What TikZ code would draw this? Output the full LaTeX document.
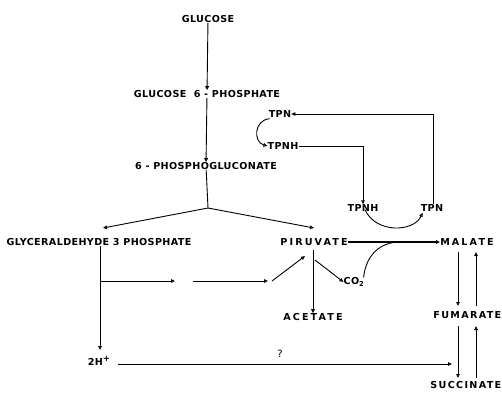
\documentclass[tikz,border=0pt]{standalone}
\usepackage{fontspec}
\usetikzlibrary{arrows.meta}
\newfontfamily\lab[LetterSpace=4]{DejaVu Sans}
\newfontfamily\labw[LetterSpace=22]{DejaVu Sans}
\newfontfamily\labm[LetterSpace=14]{DejaVu Sans}
\begin{document}
\begin{tikzpicture}[x=1pt,y=-1pt,
  lbl/.style={inner sep=0pt,font=\lab\bfseries\fontsize{9.6}{10}\selectfont},
  lblw/.style={inner sep=0pt,font=\labw\bfseries\fontsize{9.6}{10}\selectfont},
  lblm/.style={inner sep=0pt,font=\labm\bfseries\fontsize{9.6}{10}\selectfont},
  arr/.style={-{Triangle[open,length=4pt,width=3.6pt]},line width=0.9pt},
  ln/.style={line width=0.9pt}]
\useasboundingbox (0,0) rectangle (502,395);
\node[lbl] (glc) at (208,19) {GLUCOSE};
\node[lbl] (g6p) at (207,94) {GLUCOSE\ \ 6 - PHOSPHATE};
\node[lbl] (pg) at (206,166) {6 - PHOSPHOGLUCONATE};
\node[lbl] (tpn1) at (280,114) {TPN};
\node[lbl] (tpnh1) at (283,146) {TPNH};
\node[lbl] (tpnh2) at (363,208) {TPNH};
\node[lbl] (tpn2) at (432,208) {TPN};
\node[lbl] (gap) at (99,242) {GLYCERALDEHYDE 3 PHOSPHATE};
\node[lblw] (pir) at (314,242) {PIRUVATE};
\node[lblw] (mal) at (467,242) {MALATE};
\node[lbl] (co2) at (354,282) {CO\textsubscript{2}};
\node[lblw] (ace) at (313,317) {ACETATE};
\node[lblm,anchor=east] (fum) at (501.5,315) {FUMARATE};
\node[lblm,anchor=east] (suc) at (501.5,385) {SUCCINATE};
\node[lbl,anchor=base] (h2) at (99,365) {2H\raisebox{3.5pt}{\fontsize{8.5}{9}\selectfont+}};
\node[inner sep=0pt,font=\lab\fontsize{10}{10}\selectfont] (q) at (280,354) {?};
\coordinate (br) at (208,208);
\coordinate (a1) at (175,281);
\coordinate (b0) at (193,281);
\coordinate (b1) at (268,281);
\coordinate (c0) at (272,281);
\coordinate (j) at (400,242);
% main chain
\draw[arr] (glc) -- (g6p);
\draw[arr] (g6p) -- (pg);
\draw[ln] (pg) -- (br);
\draw[arr] (br) -- (103,228);
\draw[arr] (br) -- (314,228);
% TPN cycle
\draw[arr] ([xshift=1pt]tpn2.north) |- (tpn1.east);
\draw[arr] (tpnh1.east) -| (tpnh2.north);
\draw[arr] ([xshift=1pt,yshift=-1pt]tpn1.south west) .. controls (254,120) and (253,142) .. (tpnh1.west);
\draw[arr] ([xshift=2pt,yshift=2pt]tpnh2.south) .. controls (376,234) and (414,232) .. ([xshift=2pt,yshift=-1pt]tpn2.south west);
% pyruvate
\draw[arr,line width=1.2pt] (pir.east) -- (mal.west);
\draw[ln] ([xshift=-1pt]co2.north east) .. controls (366,255) and (380,242) .. (j);
\draw[arr] (313,250) -- (ace);
\draw[arr] (315,260) -- (co2.west);
% glyceraldehyde
\draw[arr] (gap.south -| 100,0) -- (100,350);
\draw[arr] (100,281) -- (a1);
\draw[arr] (b0) -- (b1);
\draw[arr] (c0) -- (305,256);
\draw[arr] (118,364) -- (452,364);
% malate / fumarate / succinate
\draw[arr] (458,252) -- (458,306);
\draw[arr] (476,306) -- (476,252);
\draw[arr] (458,326) -- (458,378);
\draw[arr] (476,378) -- (476,326);
\end{tikzpicture}
\end{document}
